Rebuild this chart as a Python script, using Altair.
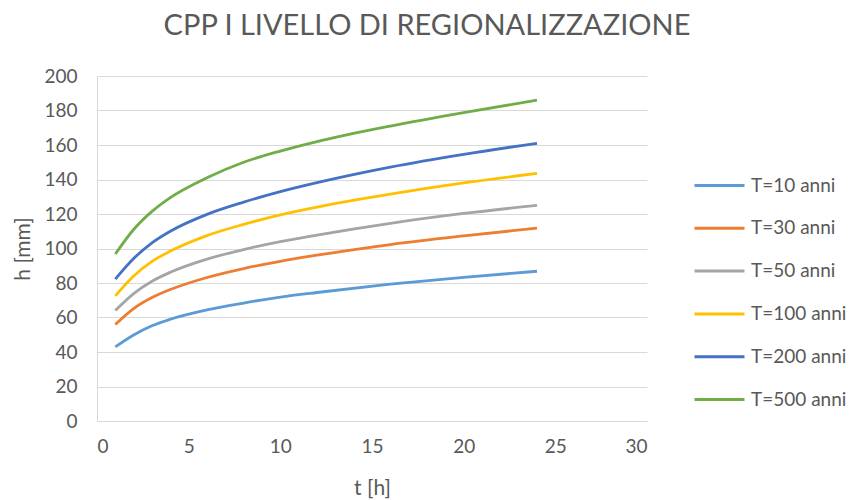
import altair as alt
import pandas as pd

# durations [h]
t = [1, 2, 3, 4, 6, 8, 10, 12, 16, 20, 24]

# heights [mm]
series_names = ["T=10 anni", "T=30 anni", "T=50 anni", "T=100 anni", "T=200 anni", "T=500 anni"]
h_10 = [43.0, 49.9, 55.2, 59.0, 64.4, 68.4, 71.8, 74.5, 79.3, 83.3, 86.8]
h_30 = [56.0, 65.2, 71.6, 76.2, 83.2, 88.4, 92.6, 96.1, 102.3, 107.3, 111.8]
h_50 = [64.0, 73.8, 81.0, 86.2, 93.8, 99.4, 104.0, 107.8, 114.6, 120.3, 125.0]
h_100 = [72.5, 84.0, 92.5, 98.5, 107.5, 114.0, 119.5, 124.0, 131.5, 138.0, 143.5]
h_200 = [82.3, 94.2, 103.3, 110.0, 119.8, 126.9, 133.0, 138.2, 147.2, 154.6, 161.0]
h_500 = [96.8, 111.0, 121.5, 129.5, 141.0, 150.0, 156.5, 162.0, 171.0, 178.8, 186.0]

colors = ["#5B9BD5", "#ED7D31", "#A5A5A5", "#FFC000", "#4472C4", "#70AD47"]

x_ticks = [0, 5, 10, 15, 20, 25, 30]
y_ticks = [0, 20, 40, 60, 80, 100, 120, 140, 160, 180, 200]

rows = []
for name, vals in zip(series_names, [h_10, h_30, h_50, h_100, h_200, h_500]):
    for ti, hi in zip(t, vals):
        rows.append({"t": ti, "h": hi, "serie": name})
df = pd.DataFrame(rows)

FONT = "Lato"
TXT = "#595959"
GRID = "#d9d9d9"

chart = alt.Chart(df).mark_line(strokeWidth=2.8, interpolate="monotone").encode(
    x=alt.X("t:Q", title="t [h]",
            scale=alt.Scale(domain=[0, 30], nice=False),
            axis=alt.Axis(values=x_ticks, grid=False, ticks=False, domainColor=GRID,
                          labelPadding=16, titlePadding=21, labelFontSize=19,
                          titleFontSize=21, titleFontWeight="normal")),
    y=alt.Y("h:Q", title="h [mm]",
            scale=alt.Scale(domain=[0, 200], nice=False),
            axis=alt.Axis(values=y_ticks, grid=True, gridColor=GRID, ticks=False,
                          domainColor=GRID, labelPadding=20, titlePadding=10,
                          labelFontSize=19, titleFontSize=21, titleFontWeight="normal")),
    color=alt.Color("serie:N", scale=alt.Scale(domain=series_names, range=colors),
                    legend=alt.Legend(title=None, orient="none", legendX=601, legendY=88,
                                      symbolType="M-1.25,0H1.25", symbolSize=1600,
                                      symbolStrokeWidth=3, labelFontSize=19,
                                      labelOffset=10, rowPadding=10.8, labelColor=TXT,
                                      labelFont=FONT)),
).properties(
    width=550,
    height=345,
    title=alt.TitleParams("CPP I LIVELLO DI REGIONALIZZAZIONE", fontSize=29, font=FONT,
                          fontWeight="normal", color=TXT, anchor="middle", dx=55, offset=26),
    autosize=alt.AutoSizeParams(type="none"),
    padding={"left": 97, "top": 76, "right": 207, "bottom": 79},
).configure_axis(
    labelFont=FONT, titleFont=FONT, labelColor=TXT, titleColor=TXT,
).configure_view(stroke=None)

chart.save("out.html", embed_options={"renderer": "svg", "actions": False})
